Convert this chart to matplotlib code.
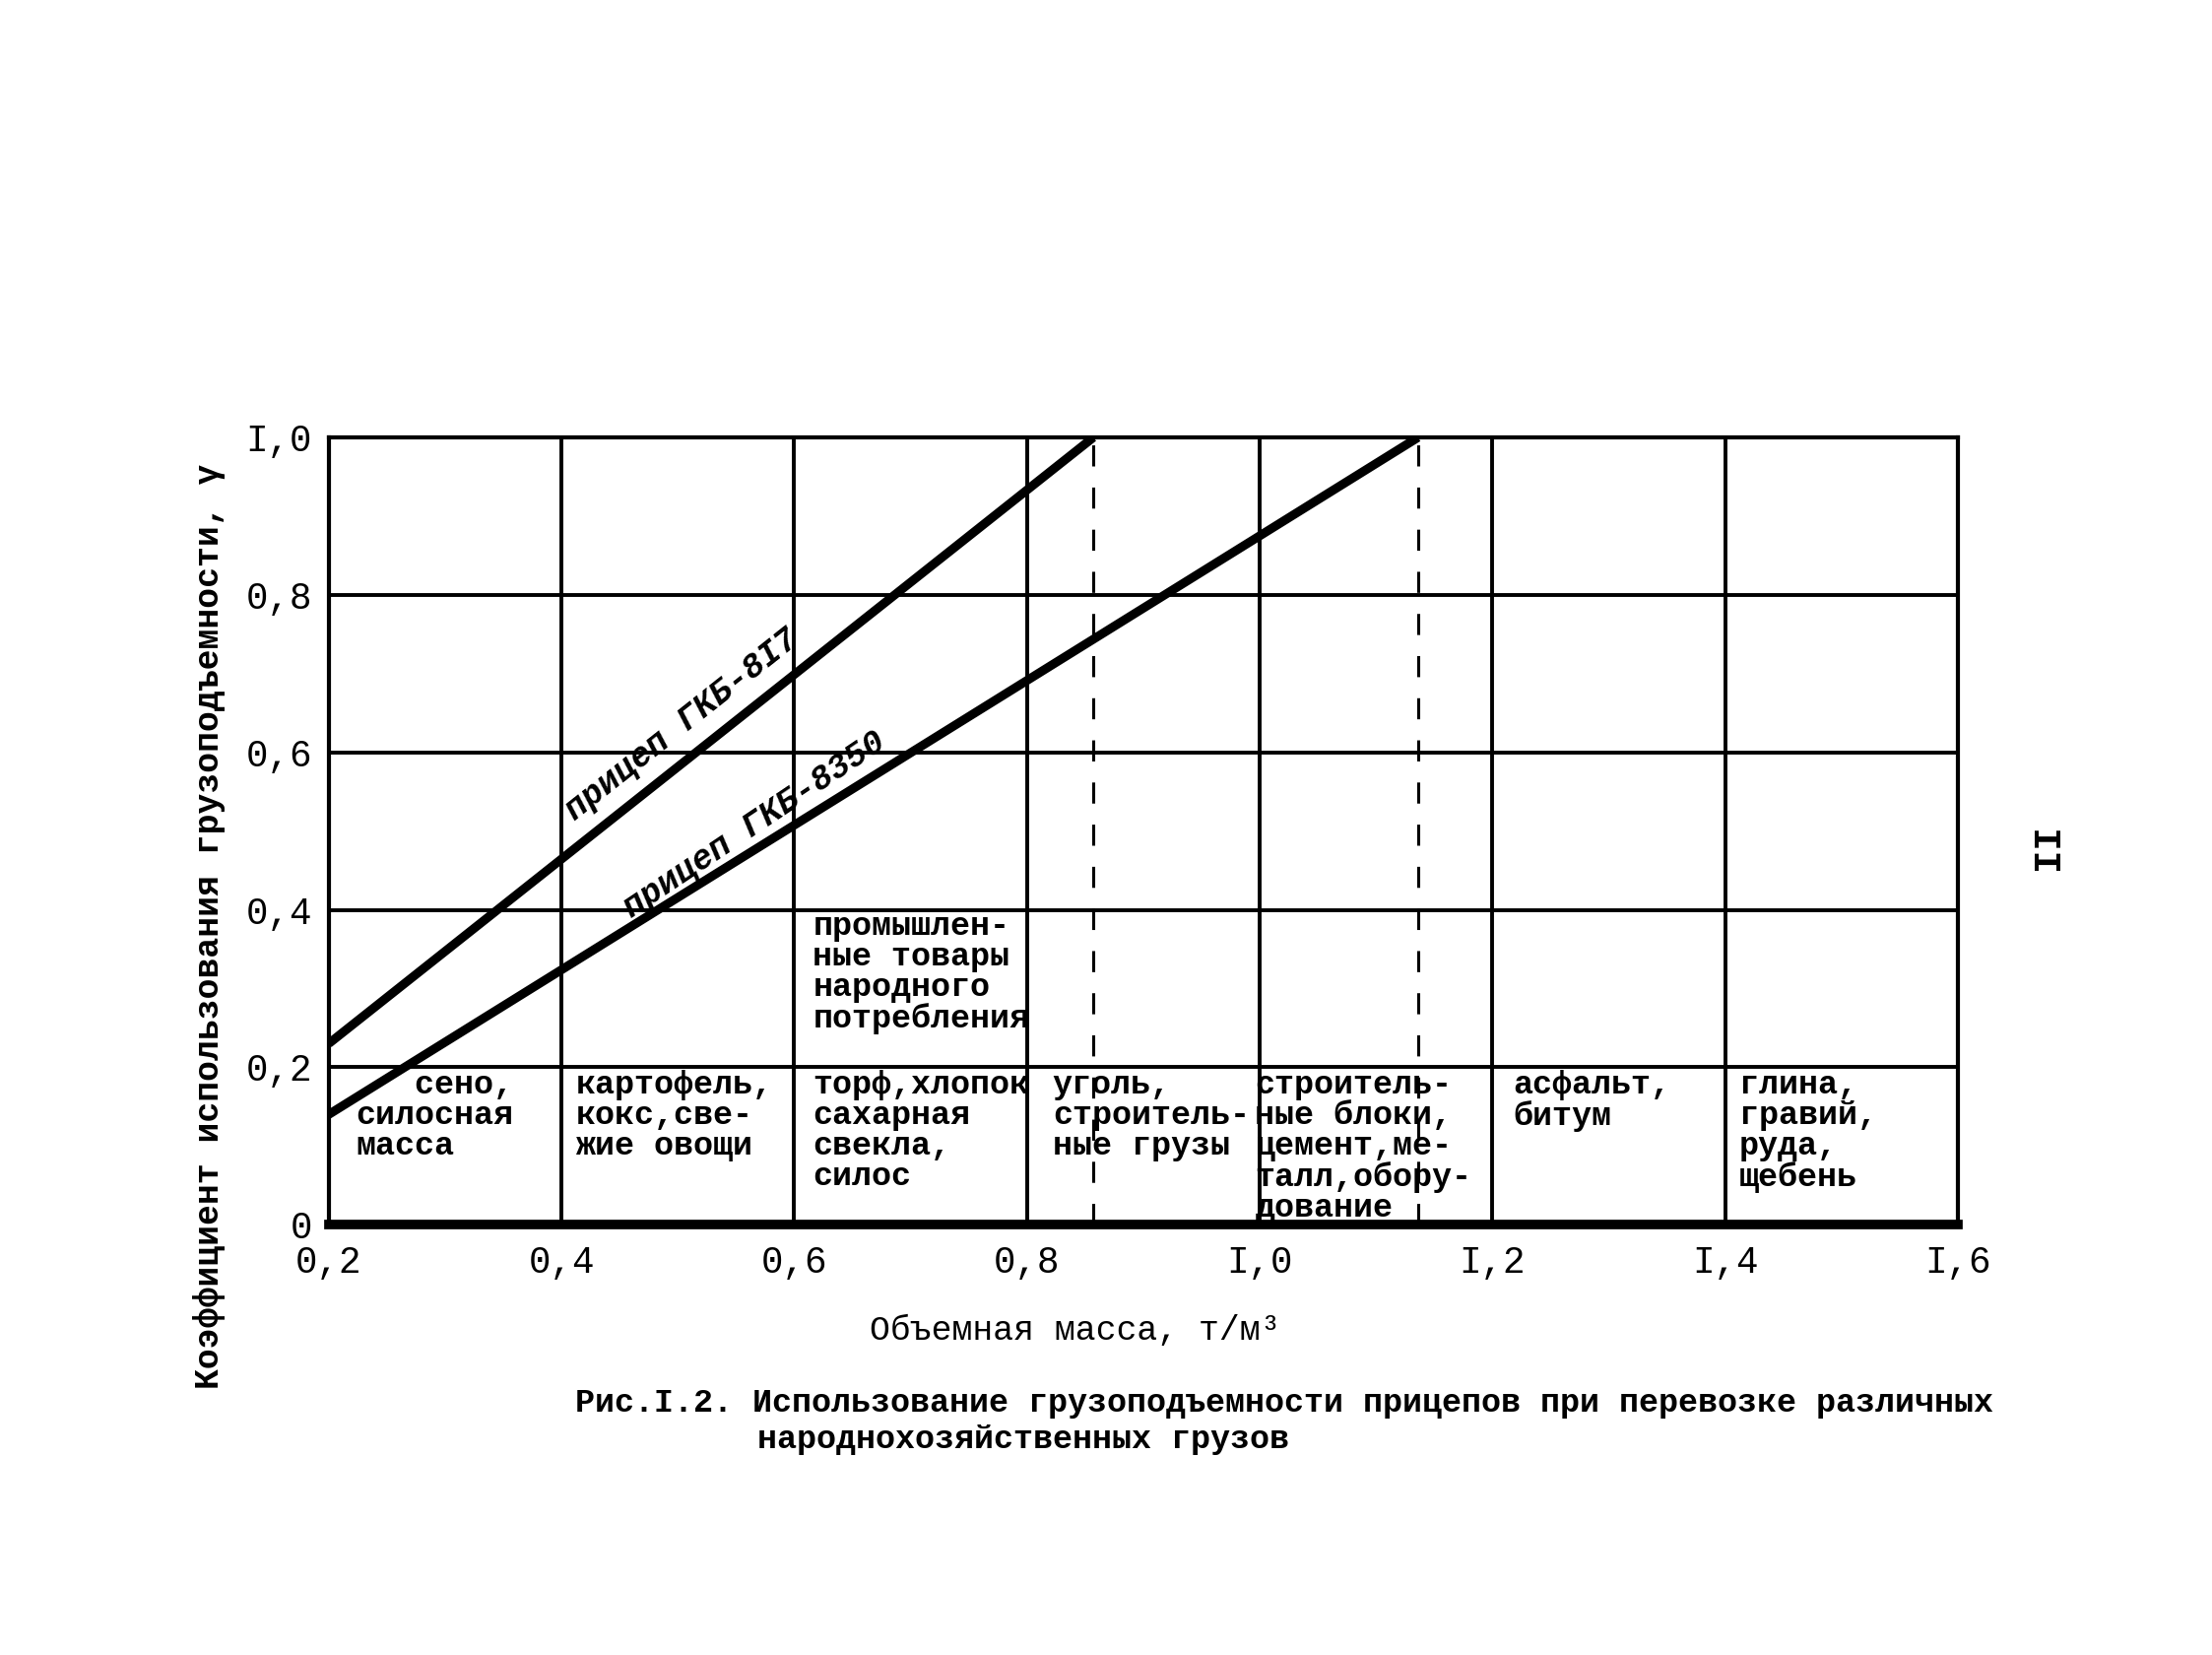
import matplotlib
matplotlib.use("Agg")
import matplotlib.pyplot as plt
import numpy as np

# data
X_TICKS = [0.2, 0.4, 0.6, 0.8, 1.0, 1.2, 1.4, 1.6]
X_TICK_LABELS = ["0,2", "0,4", "0,6", "0,8", "I,0", "I,2", "I,4", "I,6"]
Y_TICKS = [0.0, 0.2, 0.4, 0.6, 0.8, 1.0]
Y_TICK_LABELS = ["0", "0,2", "0,4", "0,6", "0,8", "I,0"]

GKB817_X = [0.2, 0.857]
GKB817_Y = [0.23, 1.0]
GKB8350_X = [0.2, 1.136]
GKB8350_Y = [0.14, 1.0]
LIMITS_X = [0.857, 1.136]          # dashed verticals where γ reaches 1

CARGO_X0 = [0.2, 0.4, 0.6, 0.8, 1.0, 1.2, 1.4]
CARGO = ["   сено,\nсилосная\nмасса",
         "картофель,\nкокс,све-\nжие овощи",
         "торф,хлопок\nсахарная\nсвекла,\nсилос",
         "уголь,\nстроитель-\nные грузы",
         "строитель-\nные блоки,\nцемент,ме-\nталл,обору-\nдование",
         "асфальт,\nбитум",
         "глина,\nгравий,\nруда,\nщебень"]
CARGO_DX = [0.023, 0.012, 0.016, 0.022, -0.004, 0.018, 0.012]
CONSUMER = "промышлен-\nные товары\nнародного\nпотребления"

FONT = ["Liberation Mono", "DejaVu Sans Mono"]
FS = 24
INK = "black"

plt.rcParams["font.family"] = FONT
plt.rcParams["font.weight"] = "bold"

fig = plt.figure(figsize=(22.46, 16.8), dpi=100)
ax = fig.add_axes([0.1486, 0.26, 0.7366, 0.4757])
ax.set_xlim(0.2, 1.6)
ax.set_ylim(0.0, 1.0)

ax.set_xticks(X_TICKS)
ax.set_xticklabels(X_TICK_LABELS, fontsize=FS + 3, fontweight="normal")
ax.set_yticks(Y_TICKS)
ax.set_yticklabels(Y_TICK_LABELS, fontsize=FS + 3, fontweight="normal")
ax.tick_params(axis="both", length=0, colors=INK)
ax.tick_params(axis="x", pad=15)
ax.tick_params(axis="y", pad=12)
ax.grid(True, color=INK, lw=2.8)
ax.set_axisbelow(True)
for sp in ax.spines.values():
    sp.set_linewidth(3)
ax.spines["bottom"].set_linewidth(7)

for xv in LIMITS_X:
    ax.plot([xv, xv], [0, 1.0], color=INK, lw=2.2, ls=(0, (7, 7)), zorder=2)

ax.plot(GKB817_X, GKB817_Y, color=INK, lw=6.5, solid_capstyle="butt", zorder=3)
ax.plot(GKB8350_X, GKB8350_Y, color=INK, lw=6.5, solid_capstyle="butt", zorder=3)


def screen_angle(xs, ys):
    p = ax.transData.transform(np.column_stack([xs, ys]))
    return np.degrees(np.arctan2(p[1, 1] - p[0, 1], p[1, 0] - p[0, 0]))


ax.text(0.503, 0.636, "прицеп ГКБ-8I7", fontsize=FS + 1, style="italic",
        rotation=screen_angle(GKB817_X, GKB817_Y), rotation_mode="anchor",
        ha="center", va="center", zorder=4)
ax.text(0.566, 0.508, "прицеп ГКБ-8350", fontsize=FS + 1, style="italic",
        rotation=screen_angle(GKB8350_X, GKB8350_Y) + 2, rotation_mode="anchor",
        ha="center", va="center", zorder=4)

for x0, dx, txt in zip(CARGO_X0, CARGO_DX, CARGO):
    ax.text(x0 + dx, 0.197, txt, fontsize=FS, ha="left", va="top",
            linespacing=1.0, zorder=4)
ax.text(0.616, 0.398, CONSUMER, fontsize=FS, ha="left", va="top",
        linespacing=1.0, zorder=4)

fig.text(0.0944, 0.44, "Коэффициент использования грузоподъемности, γ",
         rotation=90, ha="center", va="center", fontsize=FS + 1)
fig.text(0.486, 0.196, "Объемная масса, т/м³", ha="center", va="center",
         fontsize=FS + 1, fontweight="normal")
fig.text(0.260, 0.152,
         "Рис.I.2. Использование грузоподъемности прицепов при перевозке различных",
         ha="left", va="center", fontsize=FS)
fig.text(0.3425, 0.130, "народнохозяйственных грузов",
         ha="left", va="center", fontsize=FS)
fig.text(0.926, 0.4885, "II", rotation=90, ha="center", va="center",
         fontsize=FS + 4)

fig.savefig("out.png", dpi=100, facecolor="white")
